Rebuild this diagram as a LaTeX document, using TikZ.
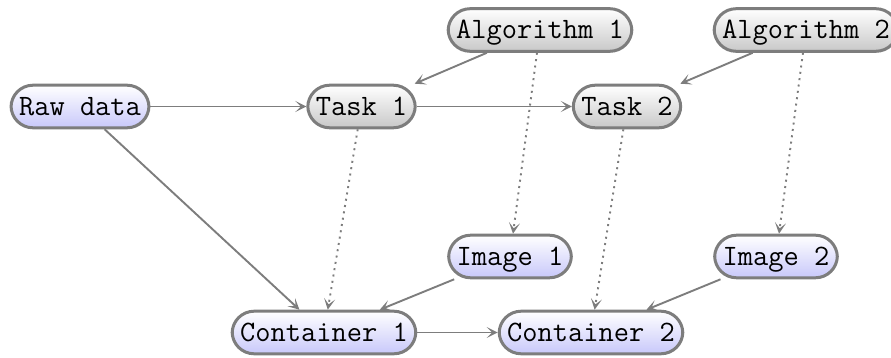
\documentclass[tikz,border=0pt]{standalone}
\usepackage{fontspec}
\usetikzlibrary{arrows.meta,shadows}
\definecolor{edgegray}{RGB}{125,125,125}
\definecolor{lav}{RGB}{200,200,250}
\definecolor{lgray}{RGB}{200,200,200}
\begin{document}
\begin{tikzpicture}[x=0.5pt,y=-0.5pt,
  base/.style={rectangle, rounded corners=11pt, draw=edgegray, line width=1.5pt,
    font=\ttfamily\fontsize{14.8}{17}\selectfont, text height=12.25pt, text depth=3.25pt,
    inner xsep=4pt, inner ysep=2.9pt,
    drop shadow={shadow xshift=0.5pt, shadow yshift=-0.6pt, opacity=0.25}},
  datanode/.style={base, top color=white, bottom color=lav},
  procnode/.style={base, top color=white, bottom color=lgray},
  link/.style={draw=edgegray, line width=0.95pt, -{Stealth[length=5.5pt,width=5.5pt,inset=2.8pt]}},
  dotlink/.style={link, dash pattern=on 1pt off 2.2pt}]
\useasboundingbox (0,0) rectangle (891,358);
\node[datanode] (raw) at (80,106.5) {Raw data};
\node[procnode] (t1) at (361.5,106.5) {Task 1};
\node[procnode] (t2) at (627,106.5) {Task 2};
\node[procnode] (a1) at (540,30) {Algorithm 1};
\node[procnode] (a2) at (806,30) {Algorithm 2};
\node[datanode] (i1) at (510,256.5) {Image 1};
\node[datanode] (i2) at (776,256.5) {Image 2};
\node[datanode] (c1) at (324,332.5) {Container 1};
\node[datanode] (c2) at (591,332.5) {Container 2};
\draw[link] (raw) -- (t1);
\draw[link] (t1) -- (t2);
\draw[link] (a1) -- (t1);
\draw[link] (a2) -- (t2);
\draw[dotlink] (a1) -- (i1);
\draw[dotlink] (a2) -- (i2);
\draw[dotlink] (t1) -- (c1);
\draw[dotlink] (t2) -- (c2);
\draw[link] (raw) -- (c1);
\draw[link] (i1) -- (c1);
\draw[link] (i2) -- (c2);
\draw[link] (c1) -- (c2);
\end{tikzpicture}
\end{document}
